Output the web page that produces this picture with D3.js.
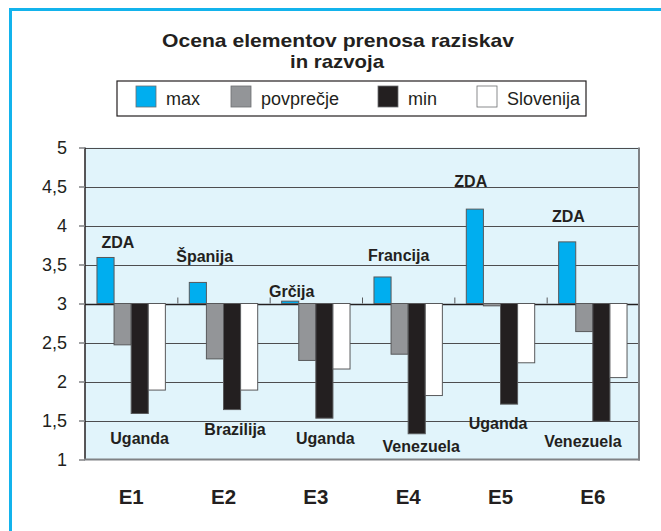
<!DOCTYPE html>
<html>
<head>
<meta charset="utf-8">
<script src="https://cdn.jsdelivr.net/npm/d3@7"></script>
<style>
  html, body { margin: 0; padding: 0; background: #fff; }
  svg { display: block; font-family: "Liberation Sans", Arial, Helvetica, sans-serif; }
</style>
</head>
<body>
<svg id="chart" width="661" height="531"></svg>
<script>
// ---- data ----
const categories = ["E1", "E2", "E3", "E4", "E5", "E6"];
const seriesNames = ["max", "povprečje", "min", "Slovenija"];
const maxValues   = [3.59, 3.27, 3.03, 3.34, 4.21, 3.79];
const avgValues   = [2.47, 2.29, 2.27, 2.35, 2.97, 2.64];
const minValues   = [1.59, 1.64, 1.53, 1.33, 1.71, 1.49];
const sloValues   = [1.89, 1.89, 2.16, 1.82, 2.24, 2.05];
const maxCountries = ["ZDA", "Španija", "Grčija", "Francija", "ZDA", "ZDA"];
const minCountries = ["Uganda", "Brazilija", "Uganda", "Venezuela", "Uganda", "Venezuela"];
// annotation anchors: [offset from category centre in band units, value]
const maxLabelAnchors = [[-0.143, 3.71], [-0.204, 3.53], [-0.261, 3.08], [-0.103, 3.54], [-0.322, 4.49], [-0.265, 4.04]];
const minLabelAnchors = [[0.092, 1.20], [0.125, 1.31], [0.103, 1.20], [0.142, 1.09], [-0.027, 1.39], [-0.108, 1.16]];
const yTicks = [1, 1.5, 2, 2.5, 3, 3.5, 4, 4.5, 5];
const baseValue = 3;

const colors = ["#00aeef", "#939598", "#231f20", "#ffffff"];
const seriesValues = [maxValues, avgValues, minValues, sloValues];

const svg = d3.select("#chart");
const textColor = "#231f20";

// outer frame (left & top edges)
svg.append("path")
  .attr("d", "M10.5,531 L10.5,9.5 L661,9.5")
  .attr("fill", "none").attr("stroke", "#13b3ec").attr("stroke-width", 3);

// title
const title = svg.append("text").attr("text-anchor", "middle")
  .attr("font-weight", "bold").attr("font-size", 19).attr("fill", textColor);
title.append("tspan").attr("x", 338).attr("y", 46.5)
  .attr("textLength", 352).attr("lengthAdjust", "spacingAndGlyphs")
  .text("Ocena elementov prenosa raziskav");
title.append("tspan").attr("x", 337).attr("y", 67.8)
  .attr("textLength", 94).attr("lengthAdjust", "spacingAndGlyphs")
  .text("in razvoja");

// legend
const legend = svg.append("g");
legend.append("rect").attr("x", 117).attr("y", 81).attr("width", 469).attr("height", 35)
  .attr("fill", "#fff").attr("stroke", textColor).attr("stroke-width", 1.2);
const legendX = [136, 231, 378, 477];
seriesNames.forEach((s, i) => {
  legend.append("rect").attr("x", legendX[i]).attr("y", 86).attr("width", 20).attr("height", 21)
    .attr("fill", colors[i]).attr("stroke", "#6d6e71").attr("stroke-width", 0.8);
  legend.append("text").attr("x", legendX[i] + 30).attr("y", 105)
    .attr("font-size", 18).attr("fill", textColor).text(s);
});

// scales
const x = d3.scaleBand().domain(categories).range([85, 639]).paddingInner(0).paddingOuter(0);
const xs = d3.scaleBand().domain(seriesNames).range([0, x.bandwidth()]).paddingInner(0).paddingOuter(0.7);
const y = d3.scaleLinear().domain([1, 5]).range([459.5, 147.5]);

// plot background
svg.append("rect").attr("x", 85).attr("y", y(5)).attr("width", 554).attr("height", y(1) - y(5))
  .attr("fill", "#e1f4fb");

// gridlines
svg.append("g").selectAll("line").data(yTicks.filter(t => t > 1)).join("line")
  .attr("x1", 85).attr("x2", 639)
  .attr("y1", d => Math.round(y(d)) + 0.5).attr("y2", d => Math.round(y(d)) + 0.5)
  .attr("stroke", d => d === 3 ? "#231f20" : "#4d4d4f").attr("stroke-width", d => d === 3 ? 1.4 : 1.2);

// category ticks at base line
svg.append("g").selectAll("line").data(categories.slice(1)).join("line")
  .attr("x1", d => x(d) + 0.5).attr("x2", d => x(d) + 0.5)
  .attr("y1", y(baseValue) - 6).attr("y2", y(baseValue))
  .attr("stroke", "#58595b").attr("stroke-width", 1);

// bars
const barData = [];
categories.forEach((c, ci) => {
  seriesNames.forEach((s, si) => {
    barData.push({ c, s, si, v: seriesValues[si][ci] });
  });
});
svg.append("g").selectAll("rect").data(barData).join("rect")
  .attr("x", d => x(d.c) + xs(d.s))
  .attr("width", xs.bandwidth())
  .attr("y", d => Math.min(y(d.v), y(baseValue)))
  .attr("height", d => Math.abs(y(d.v) - y(baseValue)))
  .attr("fill", d => colors[d.si])
  .attr("stroke", "#58595b").attr("stroke-width", 1);

// axes lines
svg.append("line").attr("x1", 85).attr("x2", 85).attr("y1", y(5)).attr("y2", y(1))
  .attr("stroke", "#231f20").attr("stroke-width", 1.5);
svg.append("line").attr("x1", 639).attr("x2", 639).attr("y1", y(5)).attr("y2", y(1) + 1)
  .attr("stroke", "#808285").attr("stroke-width", 2);
svg.append("line").attr("x1", 84).attr("x2", 640).attr("y1", y(1)).attr("y2", y(1))
  .attr("stroke", "#808285").attr("stroke-width", 2);

// y axis ticks & labels
const yAxis = d3.axisLeft(y).tickValues(yTicks).tickSize(6).tickPadding(12)
  .tickFormat(d => String(d).replace(".", ","));
const gy = svg.append("g").attr("transform", "translate(85,0)").call(yAxis);
gy.select(".domain").remove();
gy.selectAll(".tick line").attr("stroke", "#808285").attr("stroke-width", 1.5);
gy.selectAll(".tick text").attr("font-size", 18).attr("fill", textColor)
  .attr("font-family", "'Liberation Sans', Arial, sans-serif");

// category labels
svg.append("g").selectAll("text").data(categories).join("text")
  .attr("x", d => x(d) + x.bandwidth() / 2).attr("y", 504)
  .attr("text-anchor", "middle").attr("font-weight", "bold").attr("font-size", 20.5)
  .attr("fill", textColor).text(d => d);

// annotations
svg.append("g").selectAll("text").data(categories).join("text")
  .attr("x", (d, i) => x(d) + x.bandwidth() * (0.5 + maxLabelAnchors[i][0]))
  .attr("y", (d, i) => y(maxLabelAnchors[i][1]))
  .attr("text-anchor", "middle").attr("font-weight", "bold").attr("font-size", 16)
  .attr("fill", textColor).text((d, i) => maxCountries[i]);
svg.append("g").selectAll("text").data(categories).join("text")
  .attr("x", (d, i) => x(d) + x.bandwidth() * (0.5 + minLabelAnchors[i][0]))
  .attr("y", (d, i) => y(minLabelAnchors[i][1]))
  .attr("text-anchor", "middle").attr("font-weight", "bold").attr("font-size", 16)
  .attr("fill", textColor).text((d, i) => minCountries[i]);
</script>
</body>
</html>
